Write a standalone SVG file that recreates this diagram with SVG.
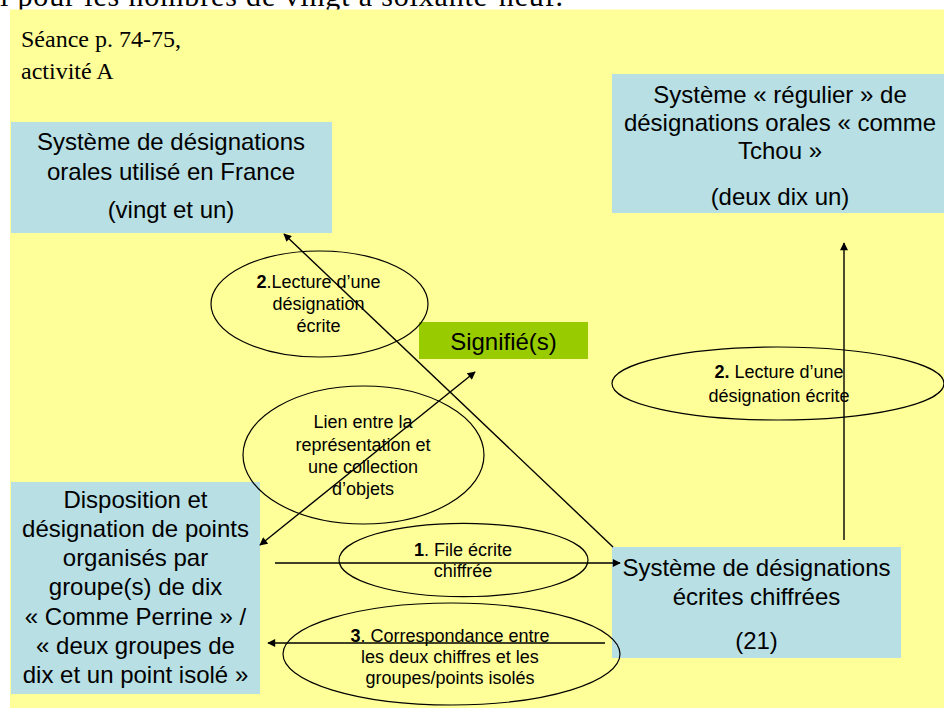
<svg xmlns="http://www.w3.org/2000/svg" width="944" height="708" viewBox="0 0 944 708">
<defs>
<marker id="ah" viewBox="0 0 10 10" refX="9" refY="5" markerWidth="9" markerHeight="8" markerUnits="userSpaceOnUse" orient="auto-start-reverse">
<path d="M0,0 L10,5 L0,10 z" fill="#000"/>
</marker>
<style>
.box{fill:#B7DFE4}
.big{font-family:"Liberation Sans",Arial,sans-serif;font-size:24px;fill:#000;text-anchor:middle}
.sm{font-family:"Liberation Sans",Arial,sans-serif;font-size:18px;fill:#000;text-anchor:middle}
.serif{font-family:"Liberation Serif","Times New Roman",serif;fill:#000}
.ell{fill:none;stroke:#000;stroke-width:1.2}
.con{fill:none;stroke:#000;stroke-width:1.4}
</style>
</defs>
<rect width="944" height="708" fill="#fff"/>
<text class="serif" x="0" y="6" font-size="30" textLength="563" lengthAdjust="spacing">i pour les nombres de vingt à soixante-neuf.</text>
<rect x="10" y="9.5" width="934" height="698.5" fill="#FFFF99"/>
<g id="title">
<text class="serif" x="21" y="47" font-size="24">Séance p. 74-75,</text>
<text class="serif" x="21" y="79" font-size="24">activité A</text>
</g>
<g id="oral-france">
<rect class="box" x="11" y="122" width="321" height="111"/>
<text class="big" x="171" y="150">Système de désignations</text>
<text class="big" x="171" y="180">orales utilisé en France</text>
<text class="big" x="171" y="218">(vingt et un)</text>
</g>
<g id="oral-regulier">
<rect class="box" x="612" y="74" width="336" height="139"/>
<text class="big" x="780" y="103">Système « régulier » de</text>
<text class="big" x="780" y="131">désignations orales « comme</text>
<text class="big" x="780" y="159">Tchou »</text>
<text class="big" x="780" y="205">(deux dix un)</text>
</g>
<g id="signifie">
<rect x="419" y="322" width="169" height="37" fill="#99CC00"/>
<text class="big" x="503.5" y="350">Signifié(s)</text>
</g>
<g id="disposition">
<rect class="box" x="11" y="482" width="249" height="212"/>
<text class="big" x="135.5" y="508">Disposition et</text>
<text class="big" x="135.5" y="537">désignation de points</text>
<text class="big" x="135.5" y="566">organisés par</text>
<text class="big" x="135.5" y="595">groupe(s) de dix</text>
<text class="big" x="135.5" y="625">« Comme Perrine » /</text>
<text class="big" x="135.5" y="654">« deux groupes de</text>
<text class="big" x="135.5" y="683">dix et un point isolé »</text>
</g>
<g id="ecrites">
<rect class="box" x="612" y="547" width="289" height="111"/>
<text class="big" x="756.5" y="576">Système de désignations</text>
<text class="big" x="756.5" y="605">écrites chiffrées</text>
<text class="big" x="756.5" y="649">(21)</text>
</g>
<g id="labels">
<ellipse class="ell" cx="319.5" cy="304" rx="108.5" ry="53"/>
<text class="sm" x="318.5" y="288"><tspan font-weight="bold">2</tspan>.Lecture d’une</text>
<text class="sm" x="318.5" y="310">désignation</text>
<text class="sm" x="318.5" y="332">écrite</text>
<ellipse class="ell" cx="363.5" cy="455" rx="120.5" ry="69"/>
<text class="sm" x="363" y="428">Lien entre la</text>
<text class="sm" x="363" y="451">représentation et</text>
<text class="sm" x="363" y="473">une collection</text>
<text class="sm" x="363" y="495">d’objets</text>
<ellipse class="ell" cx="778" cy="383.5" rx="166" ry="36.5"/>
<text class="sm" x="779" y="378"><tspan font-weight="bold">2.</tspan> Lecture d’une</text>
<text class="sm" x="779" y="402">désignation écrite</text>
<ellipse class="ell" cx="463.5" cy="560" rx="124.5" ry="36.7"/>
<text class="sm" x="463" y="556"><tspan font-weight="bold">1</tspan>. File écrite</text>
<text class="sm" x="463" y="577">chiffrée</text>
<ellipse class="ell" cx="451.5" cy="654" rx="168.5" ry="51"/>
<text class="sm" x="450" y="642"><tspan font-weight="bold">3</tspan>. Correspondance entre</text>
<text class="sm" x="450" y="663">les deux chiffres et les</text>
<text class="sm" x="450" y="684">groupes/points isolés</text>
</g>
<g id="connectors">
<line class="con" x1="613" y1="547" x2="284" y2="234" marker-end="url(#ah)"/>
<line class="con" x1="260" y1="545" x2="475" y2="372" marker-start="url(#ah)" marker-end="url(#ah)"/>
<line class="con" x1="844" y1="540" x2="844" y2="243" marker-end="url(#ah)"/>
<line class="con" x1="275" y1="563" x2="620" y2="563" marker-end="url(#ah)"/>
<line class="con" x1="605" y1="643" x2="268" y2="643" marker-end="url(#ah)"/>
</g>
</svg>
